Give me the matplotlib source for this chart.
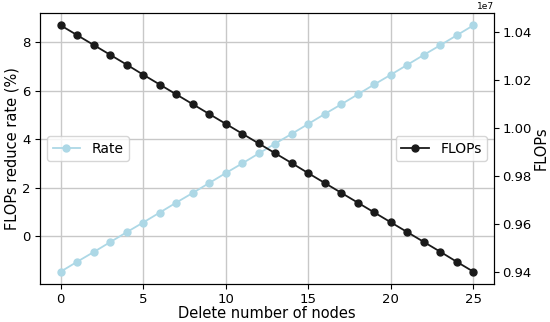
import matplotlib
matplotlib.use("Agg")
import matplotlib.pyplot as plt

nodes = list(range(26))
# values
rate = [-1.47, -1.06, -0.66, -0.25, 0.16, 0.56, 0.97, 1.38, 1.78, 2.19,
        2.60, 3.00, 3.41, 3.82, 4.22, 4.63, 5.04, 5.44, 5.85, 6.26,
        6.66, 7.07, 7.48, 7.88, 8.29, 8.70]
flops = [1.0429e7, 1.0388e7, 1.0347e7, 1.0306e7, 1.0265e7, 1.0223e7,
         1.0182e7, 1.0141e7, 1.0100e7, 1.0059e7, 1.0018e7, 0.9977e7,
         0.9936e7, 0.9895e7, 0.9854e7, 0.9812e7, 0.9771e7, 0.9730e7,
         0.9689e7, 0.9648e7, 0.9607e7, 0.9566e7, 0.9525e7, 0.9484e7,
         0.9442e7, 0.9401e7]

fig = plt.figure(figsize=(5.5, 3.22), dpi=100)
ax = fig.add_axes([40/550, 1-284/322, (494-40)/550, (284-13)/322])
ax.plot(nodes, rate, color="#add8e6", marker="o", markersize=5, linewidth=1.3, label="Rate")
ax.set_xlabel("Delete number of nodes", fontsize=10.5, labelpad=0)
ax.set_ylabel("FLOPs reduce rate (%)", fontsize=10.5, labelpad=2)
ax.grid(True, color="#c8c8c8", linewidth=1)
ax.set_xticks([0, 5, 10, 15, 20, 25])
ax.tick_params(labelsize=9.5, pad=3)
ax.legend(loc="center left", fontsize=10)

ax2 = ax.twinx()
ax2.plot(nodes, flops, color="#1a1a1a", marker="o", markersize=5, linewidth=1.3, label="FLOPs")
ax2.set_ylabel("FLOPs", fontsize=10.5, labelpad=1)
ax2.tick_params(labelsize=9.5, pad=2.5)
ax2.yaxis.get_offset_text().set_fontsize(6.5)
ax2.legend(loc="center right", fontsize=10)

fig.savefig("out.png", dpi=100)
